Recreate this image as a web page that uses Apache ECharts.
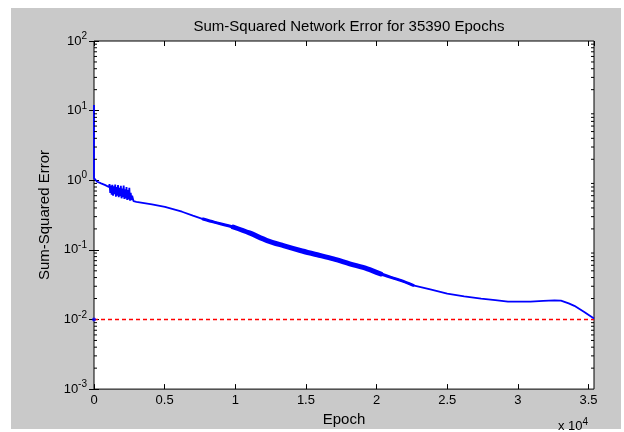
<!DOCTYPE html>
<html><head><meta charset="utf-8">
<script src="https://cdn.jsdelivr.net/npm/echarts@6/dist/echarts.min.js"></script>
<style>html,body{margin:0;padding:0;background:#fff}#c{width:624px;height:432px}</style>
</head><body><div id="c"></div>
<script>
// ---- data ----
const titleText = 'Sum-Squared Network Error for 35390 Epochs';
const xName = 'Epoch';
const yName = 'Sum-Squared Error';
const totalEpochs = 35390;
const goal = 0.01;
const xTickStep = 5000;
const yMin = 0.001, yMax = 100;
const epochs = [0,0,230,500,800,1050,1100,1150,1200,1250,1300,1350,1400,1450,1500,1550,1600,1650,1700,1750,1800,1850,1900,1950,2000,2050,2100,2150,2200,2250,2300,2350,2400,2450,2500,2550,2600,2650,2700,2800,2900,3000,3100,4100,5020,6230,7000,7720,8500,9850,11000,12250,13400,14600,15800,16950,18100,19350,20300,21700,22600,23800,25000,26200,27400,28400,29300,30900,31800,32600,33050,33600,34000,34700,35390];
const errors = [12,1.07,0.95,0.9,0.85,0.8,0.88,0.66,0.84,0.62,0.86,0.6,0.82,0.63,0.87,0.58,0.8,0.6,0.85,0.57,0.78,0.59,0.83,0.55,0.76,0.57,0.84,0.54,0.74,0.55,0.8,0.52,0.72,0.53,0.78,0.51,0.66,0.52,0.6,0.5,0.52,0.49,0.485,0.45,0.415,0.353,0.31,0.277,0.25,0.213,0.175,0.136,0.115,0.098,0.085,0.074,0.063,0.0535,0.045,0.0364,0.031,0.027,0.0235,0.0215,0.02,0.019,0.018,0.018,0.0185,0.0188,0.0187,0.017,0.0157,0.0128,0.0103];
const bandOuterRange = [7720, 22600]; // trace slightly thickened
const bandInnerRange = [9850, 20300]; // trace is a thick oscillating band
const minorMultipliers = [2,3,4,5,6,7,8,9];
const decadeExps = [-3,-2,-1,0,1];

// ---- build ----
const lineData = epochs.map((e,i)=>[e, errors[i]]);
const inRange = r => lineData.filter(d => d[0] >= r[0] && d[0] <= r[1]);
const minorVals = [];
decadeExps.forEach(k => minorMultipliers.forEach(m => minorVals.push([0, m*Math.pow(10,k)])));

const FONT = 'Liberation Sans, Arial, sans-serif';
const supRich = {
  b:{fontSize:13, fontFamily:FONT, color:'#000'},
  s:{fontSize:10, fontFamily:FONT, color:'#000', padding:[0,0,9,0]}
};
function logLabel(v){
  const e = Math.round(Math.log10(v));
  return '{b|10}{s|' + e + '}';
}

const chart = echarts.init(document.getElementById('c'), null, {renderer:'canvas'});
chart.setOption({
  backgroundColor:'#fff',
  animation:false,
  graphic:[
    {type:'rect', z:-10, silent:true, shape:{x:11,y:8,width:610,height:421}, style:{fill:'#c9c9c9'}},
    {type:'text', left:558, top:417, style:{text:'{b|x 10}{s|4}', rich:supRich}}
  ],
  title:{text:titleText, left:344, top:14, textAlign:'center',
    textStyle:{fontSize:15, fontWeight:'normal', fontFamily:FONT, color:'#000'}},
  grid:{left:94, top:41, width:500, height:350, show:true, backgroundColor:'#fff', borderColor:'#000', borderWidth:1},
  xAxis:[{
    type:'value', min:0, max:totalEpochs, interval:xTickStep, position:'bottom',
    name:xName, nameLocation:'middle', nameGap:21,
    nameTextStyle:{fontSize:15, fontFamily:FONT, color:'#000'},
    axisLine:{show:false}, splitLine:{show:false},
    axisTick:{inside:true, length:5, lineStyle:{color:'#000'}},
    axisLabel:{fontSize:13, fontFamily:FONT, color:'#000', margin:5, showMaxLabel:false,
      formatter:v => (v % xTickStep === 0) ? String(v/1e4) : ''}
  },{
    type:'value', min:0, max:totalEpochs, interval:xTickStep, position:'top',
    axisLine:{show:false}, splitLine:{show:false}, axisLabel:{show:false},
    axisTick:{inside:true, length:5, lineStyle:{color:'#000'}}
  }],
  yAxis:[{
    type:'log', logBase:10, min:yMin, max:yMax, position:'left',
    name:yName, nameLocation:'middle', nameGap:40, nameRotate:90,
    nameTextStyle:{fontSize:15, fontFamily:FONT, color:'#000'},
    axisLine:{show:false}, splitLine:{show:false},
    axisTick:{inside:true, length:5, lineStyle:{color:'#000'}},
    axisLabel:{margin:7, formatter:logLabel, rich:supRich}
  },{
    type:'log', logBase:10, min:yMin, max:yMax, position:'right',
    axisLine:{show:false}, splitLine:{show:false}, axisLabel:{show:false},
    axisTick:{inside:true, length:5, lineStyle:{color:'#000'}}
  }],
  series:[
    {type:'custom', xAxisIndex:0, yAxisIndex:0, silent:true, data:minorVals, z:5,
      renderItem:function(params, api){
        const cs = params.coordSys;
        const y = api.coord([0, api.value(1)])[1];
        const st = {stroke:'#000', lineWidth:1};
        return {type:'group', children:[
          {type:'line', shape:{x1:cs.x, y1:y, x2:cs.x+3, y2:y}, style:st},
          {type:'line', shape:{x1:cs.x+cs.width-3, y1:y, x2:cs.x+cs.width, y2:y}, style:st}
        ]};
      }},
    {type:'line', data:[[0,goal],[totalEpochs,goal]], symbol:'none', silent:true, color:'#ff0000',
      itemStyle:{color:'#ff0000'}, lineStyle:{color:'#ff0000', width:1.5, type:[4,3]}, z:3},
    {type:'line', data:lineData, symbol:'none', silent:true, color:'#0000ff',
      lineStyle:{color:'#0000ff', width:1.8}, z:4},
    {type:'line', data:inRange(bandOuterRange), symbol:'none', silent:true, smooth:0.3, color:'#0000ff',
      lineStyle:{color:'#0000ff', width:3, cap:'round'}, z:4},
    {type:'line', data:inRange(bandInnerRange), symbol:'none', silent:true, smooth:0.3, color:'#0000ff',
      lineStyle:{color:'#0000ff', width:5, cap:'round'}, z:4},
    {type:'scatter', data:[[0,goal]], symbol:'circle', symbolSize:4, silent:true,
      itemStyle:{color:'#0000ff'}, z:6}
  ]
});
</script></body></html>
